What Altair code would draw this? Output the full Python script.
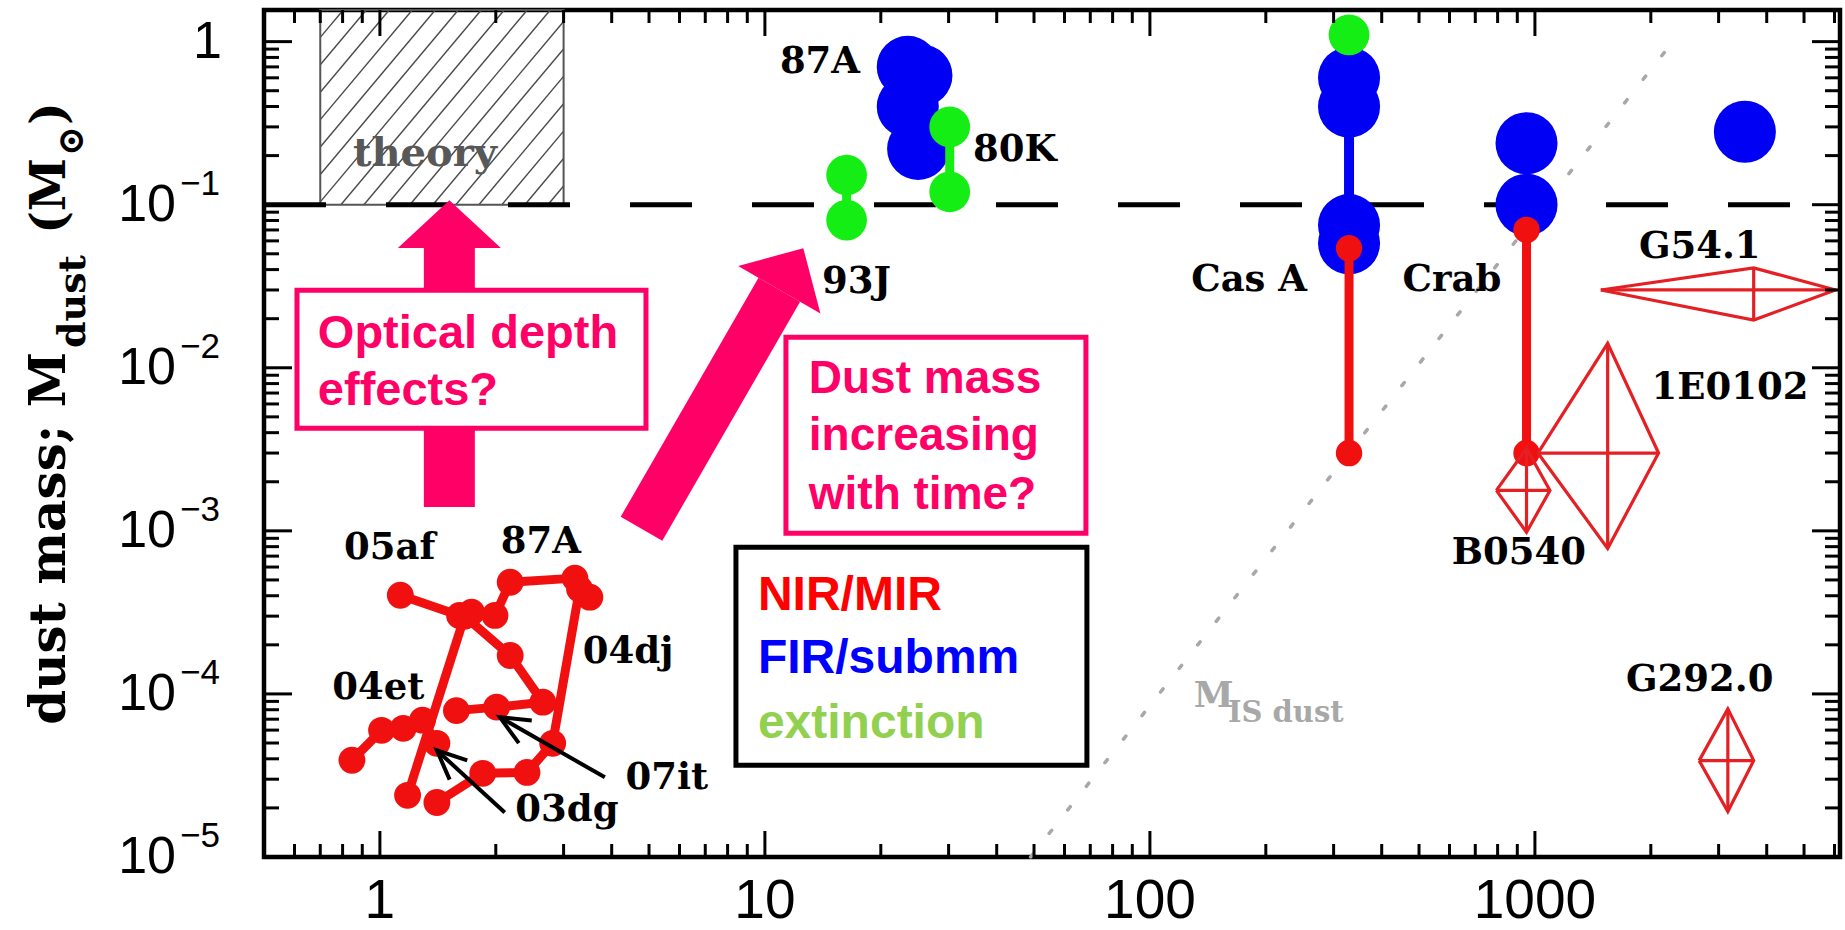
import math
import pandas as pd
import altair as alt

# ---------------- chart geometry ----------------
W, H = 1576, 847
XMIN, XMAX = 0.5, 6200.0
YMIN, YMAX = 1e-5, 1.563
PXX = W / math.log10(XMAX / XMIN)
PXY = H / math.log10(YMAX / YMIN)

RED = "#f01010"; BLUE = "#0000f5"; GREEN = "#14ee14"; PINK = "#ff0066"
DIAM = "#e42024"; GREY = "#a8a8a8"
SERIF = "DejaVu Serif"; SANS = "Liberation Sans"

# ---------------- data ----------------
# early-time NIR/MIR tracks (age in years, dust mass in Msun)
sn05af_x = [1.13, 1.61]
sn05af_y = [4.03e-4, 3.03e-4]
sn87a_x = [1.73, 1.99, 2.18, 3.21, 3.51]
sn87a_y = [3.17e-4, 3.03e-4, 4.84e-4, 5.13e-4, 3.92e-4]
sn04dj_x = [3.3, 2.81, 2.41, 1.85, 1.406]
sn04dj_y = [4.4e-4, 4.98e-5, 3.3e-5, 3.26e-5, 2.16e-5]
sn07it_x = [1.66, 2.18, 2.65, 2.01, 1.58]
sn07it_y = [3.0e-4, 1.72e-4, 8.9e-5, 8.3e-5, 7.9e-5]
sn04et_x = [0.846, 1.01, 1.15, 1.29, 1.406]
sn04et_y = [3.92e-5, 5.98e-5, 6.15e-5, 6.9e-5, 4.98e-5]
sn03dg_x = [1.66, 1.18]
sn03dg_y = [3.0e-4, 2.39e-5]

# FIR / submm (blue)
fir_x = [23.5, 25.5, 23.5, 25.0, 329, 329, 329, 329, 951, 951, 3510]
fir_y = [0.70, 0.62, 0.40, 0.22, 0.60, 0.40, 0.075, 0.058, 0.238, 0.10, 0.28]
casa_fir_x = [329, 329]
casa_fir_y = [0.40, 0.075]

# extinction (green)
sn93j_x = [16.3, 16.3]
sn93j_y = [0.152, 0.0805]
sn80k_x = [30.2, 30.2]
sn80k_y = [0.30, 0.12]
casa_ext_x = [329]
casa_ext_y = [1.1]

# NIR/MIR of remnants (red)
casa_nir_x = [329, 329]
casa_nir_y = [0.054, 0.003]
crab_nir_x = [951, 951]
crab_nir_y = [0.07, 0.003]

# diamond-shaped ranges
dm_name = ["G54.1", "1E0102", "B0540", "G292.0"]
dm_xl = [1483, 1018, 794, 2670]
dm_xc = [3700, 1545, 951, 3170]
dm_xr = [6030, 2095, 1094, 3700]
dm_yb = [0.0196, 0.00078, 0.00098, 1.9e-5]
dm_yc = [0.030, 0.003, 0.00177, 3.9e-5]
dm_yt = [0.041, 0.0141, 0.0032, 8.1e-5]

# object labels
lab_text = ["87A", "80K", "93J", "Cas A", "Crab", "G54.1", "1E0102", "B0540", "G292.0",
            "05af", "87A", "04dj", "04et", "03dg", "07it"]
lab_x = [13.9, 44.6, 17.3, 181, 609, 2680, 3210, 908, 2680, 1.06, 2.62, 4.41, 0.99, 3.06, 5.56]
lab_y = [0.75, 0.216, 0.0335, 0.0344, 0.0344, 0.055, 0.0075, 0.00073, 1.21e-4,
         7.9e-4, 8.5e-4, 1.82e-4, 1.08e-4, 1.93e-5, 3.04e-5]

# black pointer arrows (tail -> tip)
ptr_tail_x = [3.84, 2.11]
ptr_tail_y = [3.08e-5, 1.877e-5]
ptr_tip_x = [2.05, 1.406]
ptr_tip_y = [7.19e-5, 4.51e-5]

# theory box and reference lines
theory_x = [0.7, 3.0]
theory_y = [0.1, YMAX]
ref_dash_x = [XMIN, XMAX]
ref_dash_y = [0.1, 0.1]
mis_x = [49, 2370]
mis_y = [1e-5, 1.12]

# pink arrows: tail -> base of head
pk_tail_x = [1.515, 4.78]
pk_tail_y = [0.0014, 0.00103]
pk_head_x = [1.515, 10.9]
pk_head_y = [0.0542, 0.0301]

# annotation boxes (x0, x1, y0, y1)
box1 = [0.609, 4.91, 0.0299, 0.00426]
box1_lines = ["Optical depth", "effects?"]
box1_tx = 0.69
box1_ty = [0.0132, 0.0059]
box2 = [11.34, 68.2, 0.0154, 0.000966]
box2_lines = ["Dust mass", "increasing", "with time?"]
box2_tx = 13.0
box2_ty = [0.00698, 0.00312, 0.00137]
leg_box = [8.41, 68.6, 0.000794, 3.65e-5]
leg_text = ["NIR/MIR", "FIR/submm", "extinction"]
leg_color = ["#ff0000", "#0000ff", "#92d050"]
leg_tx = 9.59
leg_ty = [3.26e-4, 1.34e-4, 5.35e-5]

# axis ticks
x_major = [1, 10, 100, 1000]
x_labels = ["1", "10", "100", "1000"]
x_minor = [0.6, 0.7, 0.8, 0.9] + [d * 10 ** k for k in range(0, 4) for d in range(2, 10) if d * 10 ** k < XMAX]
y_major = [1e-5, 1e-4, 1e-3, 1e-2, 1e-1, 1.0]
y_exp = ["\u22125", "\u22124", "\u22123", "\u22122", "\u22121"]
y_minor = [d * 10.0 ** k for k in range(-5, 0) for d in range(2, 10)]

# ---------------- helpers ----------------
xs = alt.Scale(type="log", domain=[XMIN, XMAX], nice=False)
ys = alt.Scale(type="log", domain=[YMIN, YMAX], nice=False)


def X(f="x"):
    return alt.X(f"{f}:Q", scale=xs, axis=None)


def Y(f="y"):
    return alt.Y(f"{f}:Q", scale=ys, axis=None)


def to_px(x, y):
    return ((math.log10(x) - math.log10(XMIN)) * PXX, (math.log10(YMAX) - math.log10(y)) * PXY)


def to_data(u, v):
    return (10 ** (math.log10(XMIN) + u / PXX), 10 ** (math.log10(YMAX) - v / PXY))


def series_df(named):
    rows = []
    for n, xl, yl in named:
        for i, (a, b) in enumerate(zip(xl, yl)):
            rows.append({"s": n, "x": a, "y": b, "o": i})
    return pd.DataFrame(rows)


def lines(df, color, width, **kw):
    return alt.Chart(df).mark_line(color=color, strokeWidth=width, **kw).encode(
        x=X(), y=Y(), detail="s:N", order="o:Q")


def dots(df, color, size):
    return alt.Chart(df).mark_circle(color=color, size=size, opacity=1).encode(x=X(), y=Y())


def texts(df, font, size, color=None, weight="bold", align="center", baseline="middle", **kw):
    enc = dict(x=X(), y=Y(), text="t:N")
    mk = dict(font=font, fontSize=size, fontWeight=weight, align=align, baseline=baseline, **kw)
    if color is None:
        enc["color"] = alt.Color("c:N", scale=None)
    else:
        mk["color"] = color
    return alt.Chart(df).mark_text(**mk).encode(**enc)


def box(b, stroke, sw):
    df = pd.DataFrame({"x": [b[0]], "x2": [b[1]], "y": [b[2]], "y2": [b[3]]})
    return alt.Chart(df).mark_rect(fill="white", stroke=stroke, strokeWidth=sw).encode(
        x=X(), x2="x2:Q", y=Y(), y2="y2:Q")


layers = []

# ---- theory box with hatching ----
u0, v0 = to_px(theory_x[0], theory_y[1])
u1, v1 = to_px(theory_x[1], theory_y[0])
k = math.tan(math.radians(50))
hrows = []
c = u0 - (v1 - v0) / k
i = 0
while c < u1:
    v_hi = min(v1, v1 - k * (u0 - c))
    v_lo = max(v0, v1 - k * (u1 - c))
    if v_hi > v_lo:
        for j, v in enumerate((v_hi, v_lo)):
            xd, yd = to_data(c + (v1 - v) / k, v)
            hrows.append({"s": f"h{i}", "x": xd, "y": yd, "o": j})
    c += 23
    i += 1
layers.append(lines(pd.DataFrame(hrows), "#4a4a4a", 1.4))
tb = pd.DataFrame({"x": [theory_x[0]], "x2": [theory_x[1]], "y": [theory_y[0]], "y2": [theory_y[1]]})
layers.append(alt.Chart(tb).mark_rect(fillOpacity=0, stroke="#555555", strokeWidth=2).encode(
    x=X(), x2="x2:Q", y=Y(), y2="y2:Q"))
layers.append(texts(pd.DataFrame({"x": [1.31], "y": [0.204], "t": ["theory"]}), SERIF, 40, color="#585858"))

# ---- reference lines ----
layers.append(lines(series_df([("mis", mis_x, mis_y)]), GREY, 3.5, strokeDash=[4, 26], strokeCap="round"))
layers.append(texts(pd.DataFrame({"x": [130], "y": [8.27e-5], "t": ["M"]}), SERIF, 36, color=GREY,
                    align="left", baseline="alphabetic"))
layers.append(texts(pd.DataFrame({"x": [159.5], "y": [6.7e-5], "t": ["IS dust"]}), SERIF, 29, color=GREY,
                    align="left", baseline="alphabetic"))
layers.append(lines(series_df([("d", ref_dash_x, ref_dash_y)]), "black", 5, strokeDash=[62, 60]))

# ---- pink arrows ----
sh = pd.DataFrame({"x": pk_tail_x, "y": pk_tail_y, "x2": pk_head_x, "y2": pk_head_y})
layers.append(alt.Chart(sh.iloc[[0]]).mark_rule(color=PINK, strokeWidth=51, strokeCap="butt").encode(
    x=X(), y=Y(), x2="x2:Q", y2="y2:Q"))
layers.append(alt.Chart(sh.iloc[[1]]).mark_rule(color=PINK, strokeWidth=48, strokeCap="butt").encode(
    x=X(), y=Y(), x2="x2:Q", y2="y2:Q"))
hd = pd.DataFrame({"x": pk_head_x, "y": pk_head_y})
layers.append(alt.Chart(hd.iloc[[0]]).mark_point(shape="M-1,0L0,-0.93L1,0Z", filled=True, fill=PINK,
                                                  strokeWidth=0, opacity=1, size=103 ** 2).encode(x=X(), y=Y()))
layers.append(alt.Chart(hd.iloc[[1]]).mark_point(shape="M-1,0L0,-1.01L1,0Z", filled=True, fill=PINK,
                                                  strokeWidth=0, opacity=1, size=95 ** 2, angle=30).encode(x=X(), y=Y()))

# ---- annotation boxes ----
layers.append(box(box1, PINK, 5))
layers.append(texts(pd.DataFrame({"x": [box1_tx] * 2, "y": box1_ty, "t": box1_lines}), SANS, 47, color=PINK,
                    align="left", baseline="alphabetic"))
layers.append(box(box2, PINK, 5))
layers.append(texts(pd.DataFrame({"x": [box2_tx] * 3, "y": box2_ty, "t": box2_lines}), SANS, 46, color=PINK,
                    align="left", baseline="alphabetic"))
layers.append(box(leg_box, "black", 5))
layers.append(texts(pd.DataFrame({"x": [leg_tx] * 3, "y": leg_ty, "t": leg_text, "c": leg_color}), SANS, 48,
                    align="left", baseline="alphabetic"))

# ---- early-time red tracks ----
early = series_df([("05af", sn05af_x, sn05af_y), ("87A", sn87a_x, sn87a_y), ("04dj", sn04dj_x, sn04dj_y),
                   ("07it", sn07it_x, sn07it_y), ("04et", sn04et_x, sn04et_y), ("03dg", sn03dg_x, sn03dg_y)])
layers.append(lines(early, RED, 9, strokeJoin="round"))
layers.append(dots(early, RED, 720))

# ---- black pointer arrows ----
prow = []
for n in range(len(ptr_tip_x)):
    tx, ty = to_px(ptr_tail_x[n], ptr_tail_y[n])
    hx, hy = to_px(ptr_tip_x[n], ptr_tip_y[n])
    prow.append({"s": f"p{n}", "x": ptr_tail_x[n], "y": ptr_tail_y[n], "o": 0})
    prow.append({"s": f"p{n}", "x": ptr_tip_x[n], "y": ptr_tip_y[n], "o": 1})
    d = math.atan2(ty - hy, tx - hx)
    wings = []
    for sgn in (-1, 1):
        a = d + sgn * math.radians(24)
        wings.append(to_data(hx + 32 * math.cos(a), hy + 32 * math.sin(a)))
    for j, pt in enumerate([wings[0], (ptr_tip_x[n], ptr_tip_y[n]), wings[1]]):
        prow.append({"s": f"w{n}", "x": pt[0], "y": pt[1], "o": j})
layers.append(lines(pd.DataFrame(prow), "black", 4))

# ---- FIR / extinction / remnants ----
layers.append(lines(series_df([("casa", casa_fir_x, casa_fir_y)]), BLUE, 10))
layers.append(dots(pd.DataFrame({"x": fir_x, "y": fir_y}), BLUE, 3850))
layers.append(lines(series_df([("93j", sn93j_x, sn93j_y), ("80k", sn80k_x, sn80k_y)]), GREEN, 9))
layers.append(dots(pd.DataFrame({"x": sn93j_x + sn80k_x + casa_ext_x, "y": sn93j_y + sn80k_y + casa_ext_y}),
                   GREEN, 1660))
rem = series_df([("casa", casa_nir_x, casa_nir_y), ("crab", crab_nir_x, crab_nir_y)])
layers.append(lines(rem, RED, 9))
layers.append(dots(rem, RED, 700))

# ---- diamonds ----
drows = []
for n, nm in enumerate(dm_name):
    poly = [(dm_xl[n], dm_yc[n]), (dm_xc[n], dm_yt[n]), (dm_xr[n], dm_yc[n]), (dm_xc[n], dm_yb[n]),
            (dm_xl[n], dm_yc[n])]
    for j, p in enumerate(poly):
        drows.append({"s": nm + "p", "x": p[0], "y": p[1], "o": j})
    for j, p in enumerate([(dm_xl[n], dm_yc[n]), (dm_xr[n], dm_yc[n])]):
        drows.append({"s": nm + "h", "x": p[0], "y": p[1], "o": j})
    for j, p in enumerate([(dm_xc[n], dm_yb[n]), (dm_xc[n], dm_yt[n])]):
        drows.append({"s": nm + "v", "x": p[0], "y": p[1], "o": j})
layers.append(lines(pd.DataFrame(drows), DIAM, 3.2, strokeJoin="miter"))

# ---- object labels ----
layers.append(texts(pd.DataFrame({"x": lab_x, "y": lab_y, "t": lab_text}), SERIF, 37, color="black"))

# ---- ticks ----
def xticks(vals, length):
    df = pd.DataFrame({"x": vals})
    b = alt.Chart(df).mark_rule(color="black", strokeWidth=3).encode(
        x=X(), y=alt.value(H), y2=alt.value(H - length))
    t = alt.Chart(df).mark_rule(color="black", strokeWidth=3).encode(
        x=X(), y=alt.value(0), y2=alt.value(length))
    return [b, t]


def yticks(vals, length):
    df = pd.DataFrame({"y": vals})
    l = alt.Chart(df).mark_rule(color="black", strokeWidth=3).encode(
        y=Y(), x=alt.value(0), x2=alt.value(length))
    r = alt.Chart(df).mark_rule(color="black", strokeWidth=3).encode(
        y=Y(), x=alt.value(W), x2=alt.value(W - length))
    return [l, r]


layers += xticks(x_major, 26) + xticks(x_minor, 13) + yticks(y_major, 28) + yticks(y_minor, 15)

# ---- tick labels ----
layers.append(alt.Chart(pd.DataFrame({"x": x_major, "t": x_labels})).mark_text(
    font=SANS, fontSize=55, align="center", baseline="bottom", color="black").encode(
    x=X(), y=alt.value(920), text="t:N"))
ydf = pd.DataFrame({"y": y_major[:-1], "t": ["10"] * 5, "e": y_exp})
layers.append(alt.Chart(ydf).mark_text(font=SANS, fontSize=52, align="right", baseline="middle",
                                       color="black").encode(y=Y(), x=alt.value(-88), text="t:N"))
layers.append(alt.Chart(ydf).mark_text(font=SANS, fontSize=35, align="left", baseline="middle", dy=-21,
                                       color="black").encode(y=Y(), x=alt.value(-84), text="e:N"))
layers.append(alt.Chart(pd.DataFrame({"y": [1.0], "t": ["1"]})).mark_text(
    font=SANS, fontSize=52, align="right", baseline="middle", color="black").encode(
    y=Y(), x=alt.value(-42), text="t:N"))

# ---- y title (rotated, with subscripts); pieces pinned at their joints ----
title_parts = [("dust mass; M", -199, 342, 50, "right"), ("dust", -179, 338, 38, "left"),
               ("(M", -199, 148, 48, "right"), ("\u2299", -181, 146, 36, "left"),
               (")", -199, 115, 48, "left")]
for txt, px, py, fs, al in title_parts:
    layers.append(alt.Chart(pd.DataFrame({"t": [txt]})).mark_text(
        font=SERIF, fontSize=fs, fontWeight="bold", angle=270, align=al, baseline="alphabetic",
        color="black").encode(x=alt.value(px), y=alt.value(py), text="t:N"))

chart = alt.layer(*layers).properties(
    width=W, height=H,
    padding={"left": 264, "top": 10, "right": 5, "bottom": 73},
    autosize=alt.AutoSizeParams(type="none"),
).configure_view(stroke="black", strokeWidth=4.5)

chart.save("out.html", embed_options={"renderer": "svg", "actions": False})
